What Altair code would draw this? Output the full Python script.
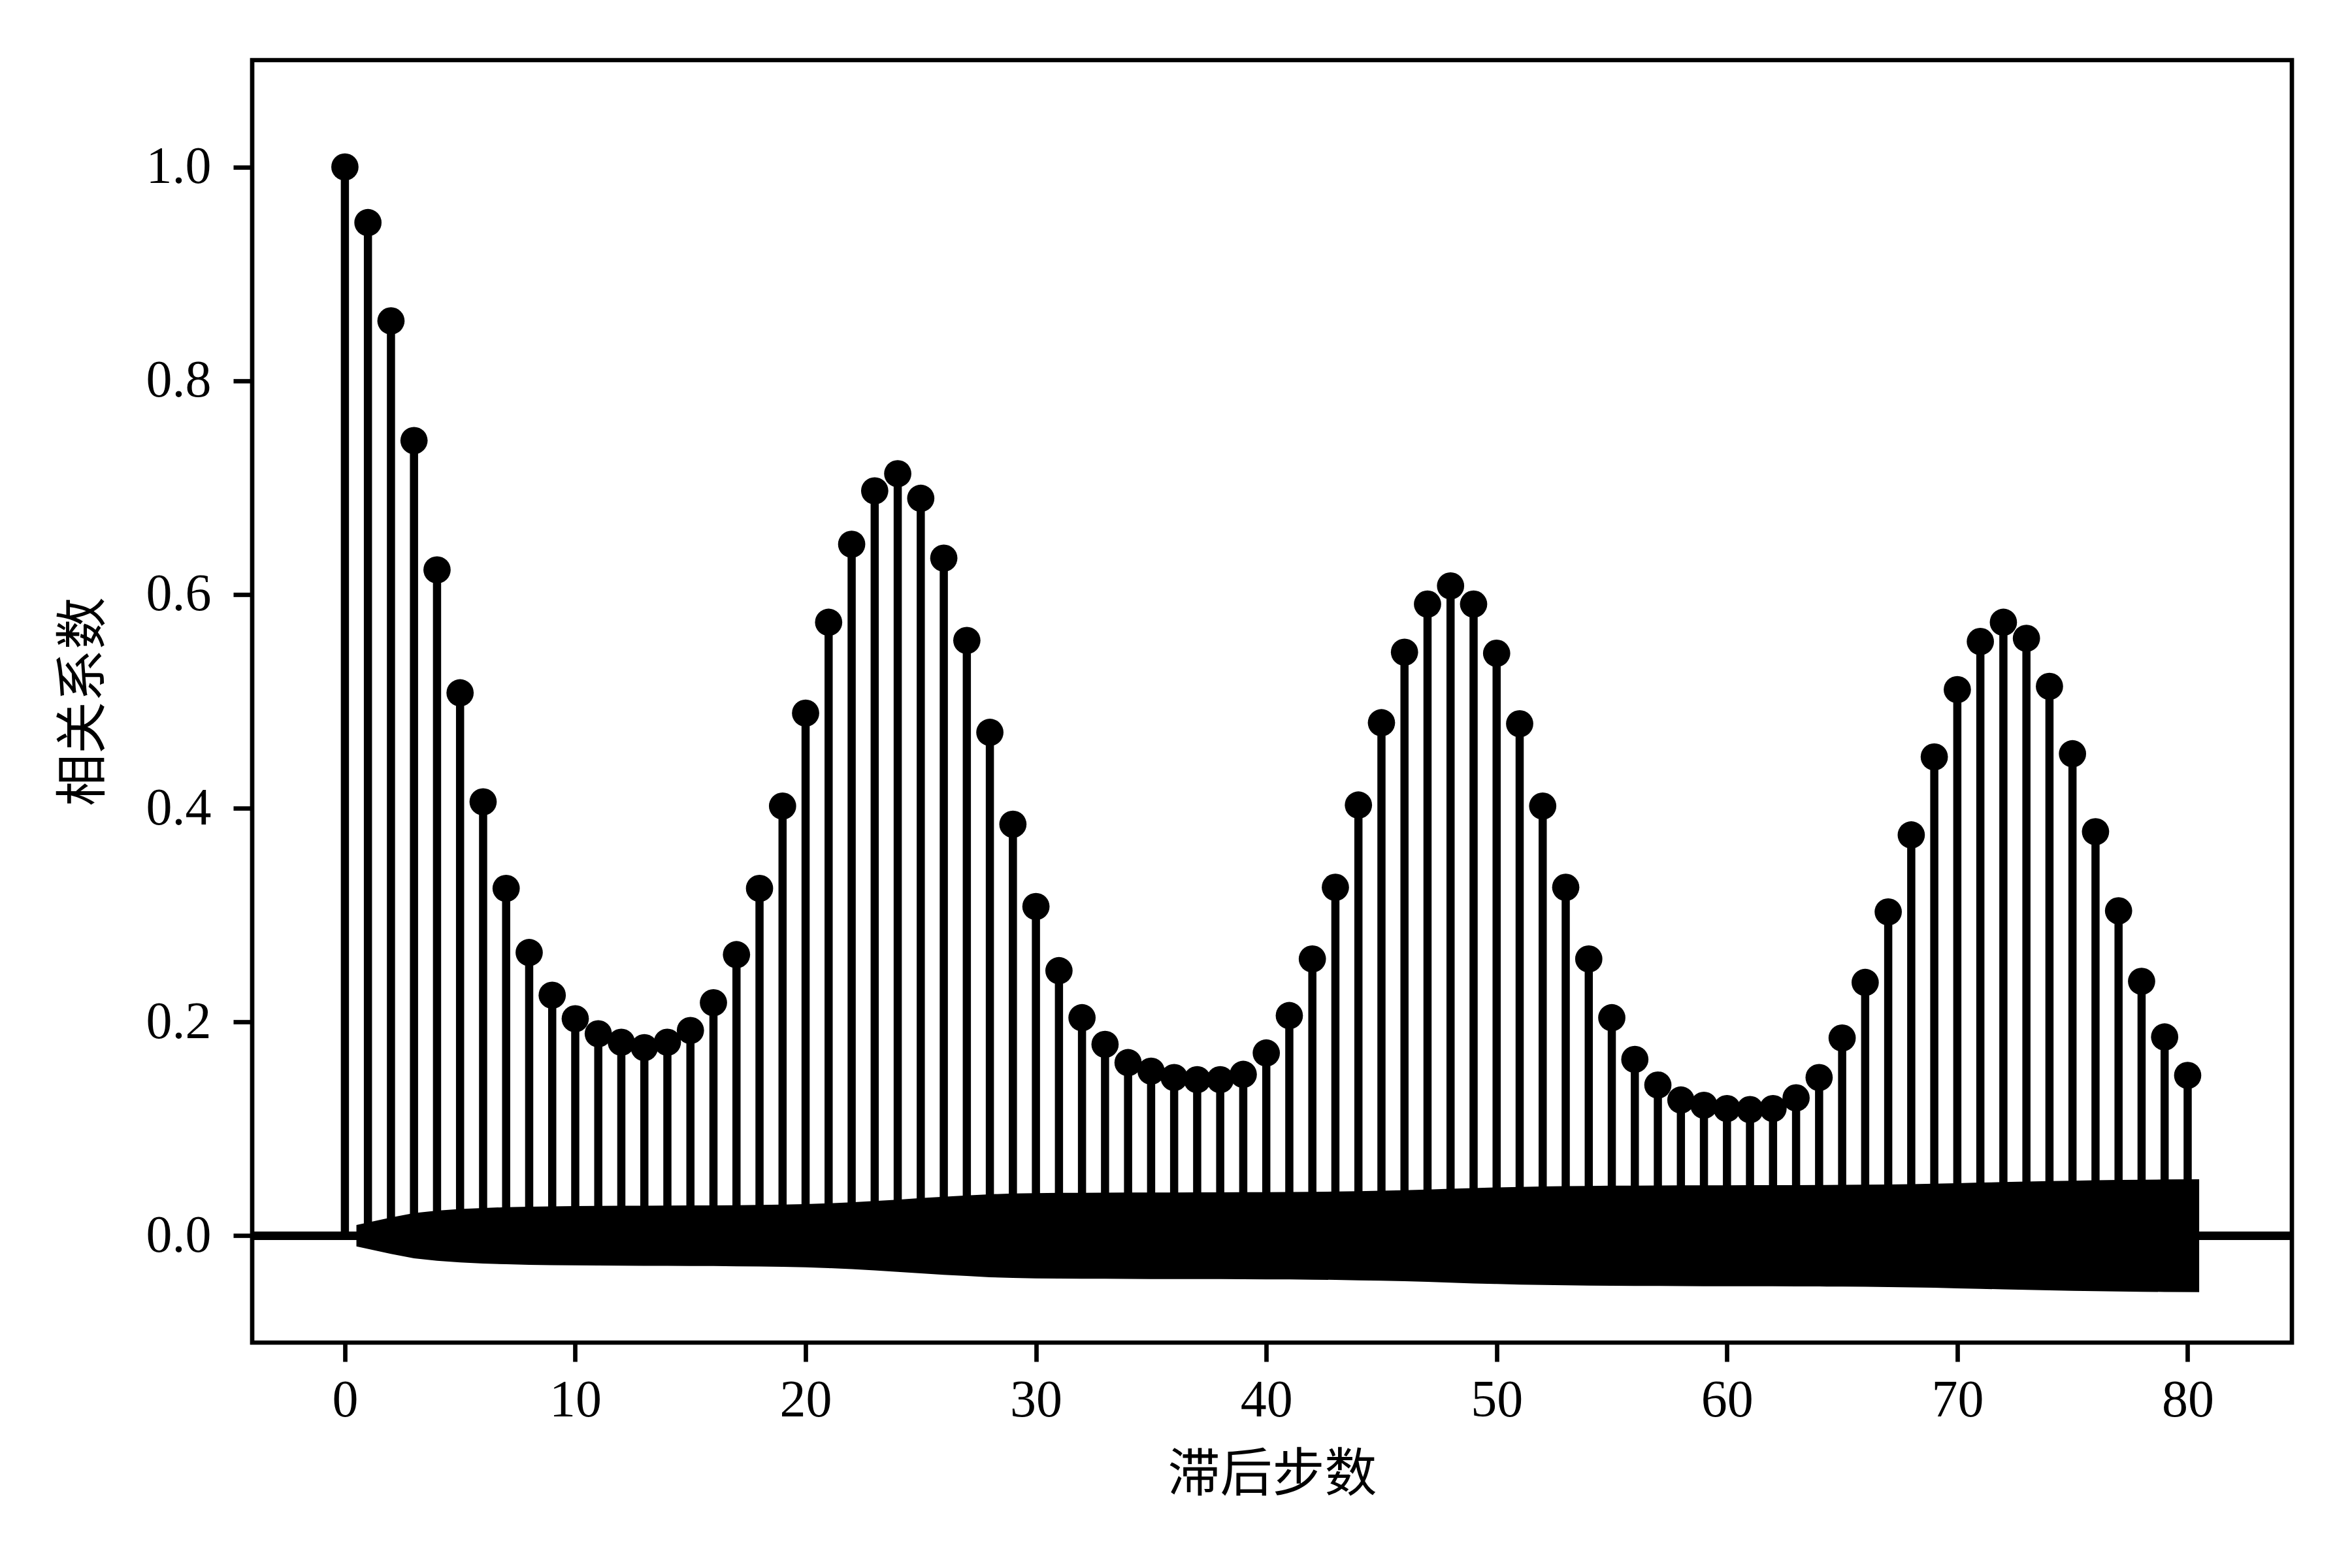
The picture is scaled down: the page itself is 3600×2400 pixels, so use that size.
import altair as alt
import pandas as pd

lags = list(range(0, 81))
acf_vals = [
    1.000, 0.948, 0.856, 0.744, 0.623, 0.508, 0.406, 0.325, 0.265, 0.225,
    0.203, 0.189, 0.181, 0.176, 0.181, 0.192, 0.218, 0.263, 0.325, 0.402,
    0.489, 0.574, 0.647, 0.697, 0.713, 0.690, 0.634, 0.557, 0.471, 0.385,
    0.308, 0.248, 0.204, 0.179, 0.162, 0.154, 0.148, 0.146, 0.146, 0.151,
    0.171, 0.206, 0.259, 0.326, 0.403, 0.480, 0.546, 0.591, 0.608, 0.591,
    0.545, 0.479, 0.402, 0.326, 0.259, 0.204, 0.165, 0.141, 0.127, 0.122,
    0.119, 0.118, 0.119, 0.129, 0.148, 0.185, 0.237, 0.303, 0.375, 0.448,
    0.511, 0.556, 0.574, 0.559, 0.514, 0.451, 0.378, 0.304, 0.238, 0.186,
    0.150,
]

# confidence band half-width for lags 1..80
band_half = [
    0.0100, 0.0170, 0.0212, 0.0235, 0.0250, 0.0260, 0.0267, 0.0272, 0.0275, 0.0277,
    0.0279, 0.0280, 0.0281, 0.0282, 0.0283, 0.0284, 0.0286, 0.0288, 0.0291, 0.0296,
    0.0303, 0.0313, 0.0325, 0.0338, 0.0352, 0.0365, 0.0377, 0.0388, 0.0395, 0.0399,
    0.0401, 0.0402, 0.0403, 0.0404, 0.0405, 0.0405, 0.0406, 0.0406, 0.0407, 0.0408,
    0.0409, 0.0411, 0.0413, 0.0417, 0.0421, 0.0426, 0.0432, 0.0439, 0.0446, 0.0452,
    0.0457, 0.0461, 0.0464, 0.0466, 0.0468, 0.0469, 0.0470, 0.0471, 0.0472, 0.0472,
    0.0473, 0.0473, 0.0474, 0.0475, 0.0476, 0.0478, 0.0480, 0.0483, 0.0487, 0.0492,
    0.0497, 0.0502, 0.0507, 0.0511, 0.0515, 0.0519, 0.0522, 0.0524, 0.0526, 0.0528,
]

x_title = "滞后步数"
y_title = "相关系数"
x_ticks = [0, 10, 20, 30, 40, 50, 60, 70, 80]
y_ticks = [0.0, 0.2, 0.4, 0.6, 0.8, 1.0]

df = pd.DataFrame({"lag": lags, "acf": acf_vals})
df["zero"] = 0.0

band_lags = [float(v) for v in lags[1:]]
band_lags[0] -= 0.5
band_lags[-1] += 0.5
band = pd.DataFrame({
    "lag": band_lags,
    "lo": [-v for v in band_half],
    "hi": band_half,
})

xs = alt.Scale(domain=[-4.025, 84.525], nice=False, zero=False)
ys = alt.Scale(domain=[-0.1, 1.1], nice=False, zero=False)

xaxis = alt.Axis(
    values=x_ticks, format="d", grid=False, domain=False,
    tickColor="black", tickWidth=6.7, tickSize=29,
    labelFont="Liberation Serif", labelFontSize=80, labelColor="black",
    labelPadding=20, labelFlush=False,
    title=x_title, titleFont="Noto Sans CJK SC", titleFontSize=80,
    titleFontWeight="normal", titleColor="black",
    titleY=202, titleBaseline="middle",
)
yaxis = alt.Axis(
    values=y_ticks, format=".1f", grid=False, domain=False,
    tickColor="black", tickWidth=6.7, tickSize=29,
    labelFont="Liberation Serif", labelFontSize=80, labelColor="black",
    labelPadding=34, labelFlush=False,
    title=y_title, titleFont="Noto Sans CJK SC", titleFontSize=80,
    titleFontWeight="normal", titleColor="black",
    titleX=-258, titleBaseline="middle", titleAngle=270,
)

stems = alt.Chart(df).mark_rule(color="black", strokeWidth=12.5).encode(
    x=alt.X("lag:Q", scale=xs, axis=xaxis),
    y=alt.Y("zero:Q", scale=ys, axis=yaxis),
    y2="acf:Q",
)

dots = alt.Chart(df).mark_circle(color="black", opacity=1, size=1740).encode(
    x=alt.X("lag:Q", scale=xs),
    y=alt.Y("acf:Q", scale=ys),
)

hline = alt.Chart(df).mark_rule(color="black", strokeWidth=12.5).encode(
    y=alt.datum(0.0, scale=ys),
)

area = alt.Chart(band).mark_area(color="black", opacity=1, interpolate="linear").encode(
    x=alt.X("lag:Q", scale=xs),
    y=alt.Y("lo:Q", scale=ys),
    y2="hi:Q",
)

chart = (
    alt.layer(stems, dots, hline, area)
    .properties(
        width=3122, height=1963,
        autosize=alt.AutoSizeParams(type="none"),
        padding={"left": 378, "top": 84, "right": 84, "bottom": 337},
        background="white",
    )
    .configure_view(stroke="black", strokeWidth=6.7)
)

chart.save("out.html", embed_options={"renderer": "svg", "actions": False})
